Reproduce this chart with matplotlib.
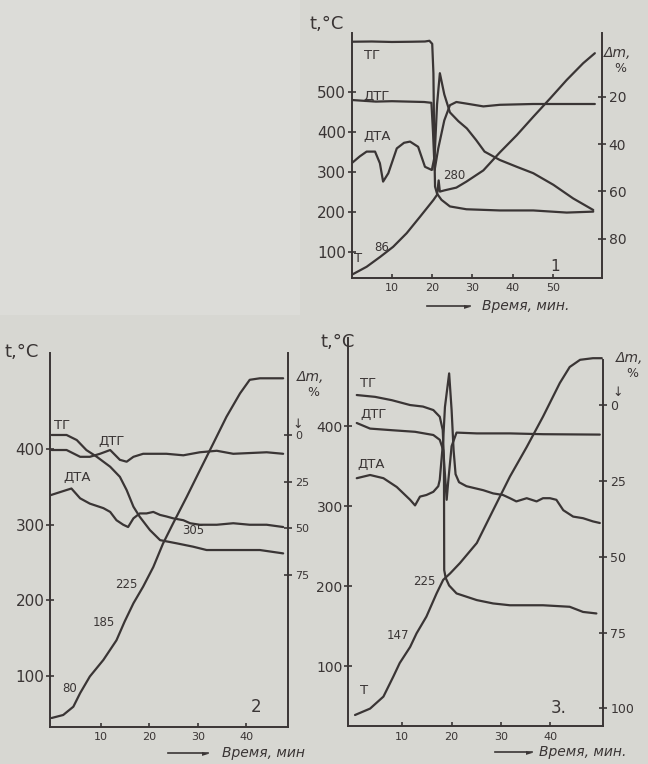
import matplotlib.pyplot as plt
from matplotlib.patches import Rectangle

W, H = 648, 764
INK = "#3a3535"
PAPER = "#d7d7d2"

# ---- panel 1 (top right) ----
p1_T_t = [0, 3.7, 7.1, 10.3, 13.65, 16.96, 20.3, 21.2, 21.6, 21.9, 23, 26, 28.5, 32.7, 36.8, 41.0, 45.1, 49.3, 53.4, 57.5, 60.4]
p1_T = [44, 64, 89, 114, 148, 189, 231, 244, 280, 252, 255, 262, 277, 305, 350, 393, 439, 485, 531, 573, 598]
p1_tg_t = [0, 5, 10, 15, 18.2, 19.3, 20.0, 20.3, 20.5, 20.7, 21.2, 22.3, 24.4, 28.5, 36.8, 45.1, 53.4, 60.0]
p1_tg = [-3.4, -3.5, -3.3, -3.4, -3.5, -3.8, -2.5, 10, 40, 58, 61, 63.6, 66.4, 67.6, 68.1, 68.1, 69.0, 68.6]
p1_dtg_t = [0, 3, 6, 10, 14, 18, 19.8, 20.2, 20.6, 21.5, 23, 24.4, 26, 28.5, 32.7, 36.8, 45, 53, 60.4]
p1_dtg = [481, 479, 477, 478, 477, 476, 474, 400, 306, 360, 430, 468, 476, 472, 465, 469, 471, 471, 471]
p1_dta_t = [0, 2, 3.7, 5.8, 7.0, 7.8, 9.1, 11.2, 13, 14.5, 16.5, 18.2, 19.9, 20.6, 21.2, 21.9, 23, 24.4, 26.5, 28.6, 30.9, 33, 36.8, 41.0, 45.1, 50.1, 55.0, 60.0]
p1_dta = [323, 340, 352, 352, 323, 277, 298, 360, 374, 377, 364, 314, 306, 340, 470, 548, 495, 450, 428, 410, 381, 352, 331, 314, 298, 269, 235, 206]

# ---- panel 2 (bottom left) ----
p2_T_t = [-0.2, 2.2, 4.3, 5.7, 7.7, 10.5, 13.2, 14.9, 16.7, 18.7, 20.8, 22.8, 24.9, 27.7, 30.4, 33.2, 35.9, 38.7, 40.7, 42.8, 47.6]
p2_T = [44, 48, 59, 77, 99, 121, 147, 172, 196, 218, 244, 275, 302, 337, 372, 408, 443, 474, 492, 494, 494]
p2_tg_t = [-0.2, 2.9, 5.0, 7.0, 9.1, 11.9, 13.9, 15.3, 16.7, 18.0, 20.1, 22.2, 25.6, 29.0, 31.8, 37.3, 42.8, 47.6]
p2_tg = [0, 0, 2.7, 8.1, 11.6, 17, 22.4, 29.5, 38.4, 43.8, 50.9, 56.3, 58, 59.8, 61.6, 61.6, 61.6, 63.4]
p2_dtg_t = [-0.2, 2.9, 5.7, 7.7, 9.8, 11.9, 13.9, 15.3, 16.7, 18.7, 23.5, 27.0, 30.4, 33.9, 37.3, 44.2, 47.6]
p2_dtg = [399, 399, 390, 390, 394, 399, 386, 383.5, 390, 394, 394, 392, 396, 398, 394, 396, 394]
p2_dta_t = [-0.5, 2.9, 3.9, 5.7, 7.7, 10.5, 11.9, 13.2, 14.6, 15.6, 16.7, 18.0, 19.4, 20.8, 22.2, 23.5, 24.9, 27.0, 28.4, 30.4, 33.9, 37.3, 40.7, 44.2, 47.6]
p2_dta = [339, 346, 348, 335, 328, 322, 317, 306, 300, 297, 308.5, 315, 315, 317, 313, 311, 308.5, 306, 302, 300, 300, 302, 300, 300, 297]

# ---- panel 3 (bottom right) ----
p3_T_t = [0.45, 3.5, 6.2, 8.2, 9.5, 11.6, 12.9, 14.9, 16.96, 18.3, 19.7, 21.7, 25.1, 28.4, 31.8, 35.2, 38.5, 41.9, 43.9, 46.0, 48.6, 50.4]
p3_T = [39, 47, 62, 87, 104, 124, 141, 162, 191, 208, 216, 229, 254, 295, 337, 374, 412, 454, 474, 483, 485, 485]
p3_tg_t = [0.8, 4.5, 7.9, 11.6, 14.2, 16.3, 17.6, 18.2, 18.45, 18.5, 18.8, 19.5, 21.0, 25.1, 28.4, 31.8, 38.5, 43.9, 46.6, 49.3]
p3_tg = [-3.3, -2.7, -1.6, 0, 0.5, 1.65, 3.85, 8.2, 18, 54.4, 57, 59.5, 62.1, 64.3, 65.4, 66, 66, 66.5, 68.2, 68.7]
p3_dtg_t = [0.8, 3.5, 7.9, 12.6, 16.3, 17.6, 18.3, 18.65, 19.0, 19.3, 20.0, 21.0, 25.1, 31.8, 38.5, 50.0]
p3_dtg = [404, 397, 395, 393, 389, 383, 370, 340, 308, 330, 375, 392, 391, 391, 390, 389.5]
p3_dta_t = [0.8, 3.5, 6.2, 8.9, 11.6, 12.6, 13.6, 14.9, 16.3, 17.3, 17.6, 18.3, 18.65, 19.5, 20.0, 20.4, 20.8, 21.5, 23.0, 26.4, 28.4, 30.4, 31.8, 33.1, 35.2, 37.2, 38.5, 39.9, 41.2, 42.6, 44.6, 46.6, 48.6, 50.0]
p3_dta = [335, 339, 335, 324, 308, 301, 312, 314, 318, 325, 333, 383, 424, 466, 420, 370, 340, 330, 325, 320, 316, 314, 310, 306, 310, 306, 310, 310, 308, 295, 287, 285, 281, 279]


def rect(l, r, t, b):
    return [l / W, 1 - b / H, (r - l) / W, (b - t) / H]


def panel(box, xlim, ylim, mlim, xt, yt, mt, yfs, mfs):
    ax = fig.add_axes(rect(*box))
    ax.set_facecolor("none")
    ax.set_xlim(*xlim)
    ax.set_ylim(*ylim)
    ax.set_xticks(xt)
    ax.set_yticks(yt)
    ax.spines["top"].set_visible(False)
    ax.spines["right"].set_visible(False)
    for s in ("left", "bottom"):
        ax.spines[s].set_color(INK)
        ax.spines[s].set_linewidth(1.4)
    ax.tick_params(axis="x", direction="in", length=3, width=1.2, colors=INK,
                   labelsize=8, pad=4)
    ax.tick_params(axis="y", direction="inout", length=6, width=1.2, colors=INK,
                   labelsize=yfs, pad=1)
    ax2 = ax.twinx()
    ax2.set_ylim(*mlim)
    ax2.set_yticks(mt)
    for s in ("left", "bottom", "top"):
        ax2.spines[s].set_visible(False)
    ax2.spines["right"].set_color(INK)
    ax2.spines["right"].set_linewidth(1.4)
    ax2.tick_params(axis="y", direction="inout", length=6, width=1.2, colors=INK,
                    labelsize=mfs, pad=2)
    return ax, ax2


fig = plt.figure(figsize=(W / 100, H / 100), dpi=100)
fig.patch.set_facecolor(PAPER)
fig.patches.append(Rectangle((0, 1 - 315 / H), 300 / W, 315 / H, transform=fig.transFigure,
                             facecolor="#dcdcd8", edgecolor="none", zorder=0))

LW = 1.6
kw = dict(color=INK, lw=LW, solid_capstyle="round", solid_joinstyle="round")
lab = dict(color=INK, fontsize=9.5)
num = dict(color=INK, fontsize=8.5)

# panel 1
ax, ax2 = panel((351.7, 601.7, 33, 277.7), (0, 62.1), (36.75, 648.5), (96.6, -7.1),
                [10, 20, 30, 40, 50], [100, 200, 300, 400, 500], [20, 40, 60, 80], 11, 10)
ax.plot(p1_T_t, p1_T, **kw)
ax.plot(p1_dtg_t, p1_dtg, **kw)
ax.plot(p1_dta_t, p1_dta, **kw)
ax2.plot(p1_tg_t, p1_tg, **kw)
ax.text(3.0, 593, "ТГ", va="center", **lab)
ax.text(3.0, 489, "ДТГ", va="center", **lab)
ax.text(3.0, 389, "ДТА", va="center", **lab)
ax.text(0.6, 85, "Т", va="center", **lab)
ax.text(5.5, 112, "86", va="center", **num)
ax.text(22.8, 293, "280", va="center", **num)
ax.text(50.5, 64, "1", ha="center", va="center", color=INK, fontsize=11)

# panel 2
ax, ax2 = panel((50, 288, 353, 726.7), (-0.52, 48.6), (32.5, 527.5), (156.2, -43.9),
                [10, 20, 30, 40], [100, 200, 300, 400], [0, 25, 50, 75], 11, 8)
ax.plot(p2_T_t, p2_T, **kw)
ax.plot(p2_dtg_t, p2_dtg, **kw)
ax.plot(p2_dta_t, p2_dta, **kw)
ax2.plot(p2_tg_t, p2_tg, **kw)
ax.text(0.3, 431, "ТГ", va="center", **lab)
ax.text(9.4, 410, "ДТГ", va="center", **lab)
ax.text(2.2, 362, "ДТА", va="center", **lab)
ax.text(2.0, 83, "80", va="center", **num)
ax.text(8.2, 171, "185", va="center", **num)
ax.text(13.0, 221, "225", va="center", **num)
ax.text(26.7, 293, "305", va="center", **num)
ax.text(42.1, 59, "2", ha="center", va="center", color=INK, fontsize=12)

# panel 3
ax, ax2 = panel((348.3, 603.3, 338, 726), (-0.91, 50.7), (25.25, 510.25), (105.8, -22.1),
                [10, 20, 30, 40], [100, 200, 300, 400], [0, 25, 50, 75, 100], 10, 9)
ax2.spines["right"].set_bounds(105.8, -14.8)
ax.plot(p3_T_t, p3_T, **kw)
ax.plot(p3_dtg_t, p3_dtg, **kw)
ax.plot(p3_dta_t, p3_dta, **kw)
ax2.plot(p3_tg_t, p3_tg, **kw)
ax.text(1.5, 453, "ТГ", va="center", **lab)
ax.text(1.5, 415, "ДТГ", va="center", **lab)
ax.text(0.9, 352, "ДТА", va="center", **lab)
ax.text(1.5, 70, "Т", va="center", **lab)
ax.text(6.9, 138, "147", va="center", **num)
ax.text(12.2, 206, "225", va="center", **num)
ax.text(41.6, 48, "3.", ha="center", va="center", color=INK, fontsize=12)


def ftext(px, py, s, **k):
    fig.text(px / W, 1 - py / H, s, color=INK, ha="center", va="center", **k)


# axis captions
for (x, y) in [(327, 24), (22, 352), (338, 342)]:
    ftext(x, y, "t,°C", fontsize=13)
for (x, y) in [(618, 53), (311, 377), (630, 358)]:
    ftext(x, y, "Δm,", fontsize=10, style="italic")
    ftext(x + 2, y + 15, "%", fontsize=9)
ftext(298, 424, "↓", fontsize=9)
ftext(618, 392, "↓", fontsize=9)
for (x0, x1, y, tx, s) in [(427, 470, 306, 482, "Время, мин."),
                           (168, 208, 753, 222, "Время, мин"),
                           (495, 532, 752, 539, "Время, мин.")]:
    fig.add_artist(plt.Line2D([x0 / W, x1 / W], [1 - y / H] * 2, color=INK, lw=1.2))
    fig.text(x1 / W, 1 - y / H, "►", color=INK, fontsize=6, ha="right", va="center")
    fig.text(tx / W, 1 - y / H, s, color=INK, fontsize=10, style="italic",
             ha="left", va="center")

fig.savefig("out.png", dpi=100, facecolor=PAPER)
